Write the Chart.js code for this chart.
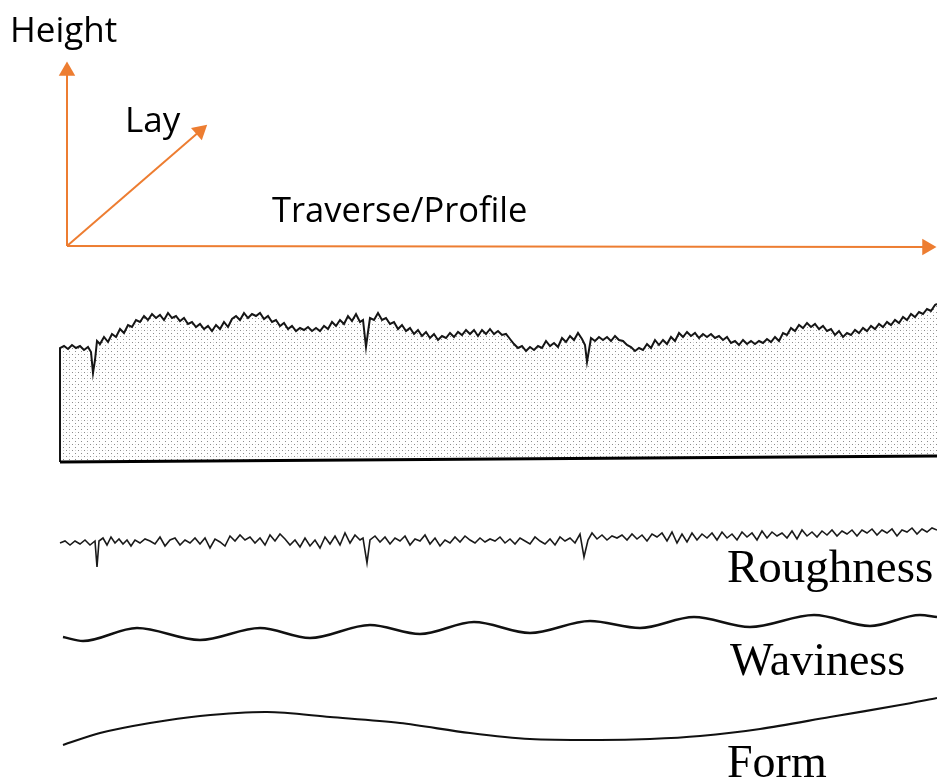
<!DOCTYPE html>
<html>
<head>
<meta charset="utf-8">
<script src="https://cdn.jsdelivr.net/npm/chart.js@4.4.1/dist/chart.umd.min.js"></script>
<style>
  body { margin: 0; background: #fff; }
  #wrap { width: 937px; height: 781px; }
</style>
</head>
<body>
<div id="wrap"><canvas id="chart" width="937" height="781"></canvas></div>
<script>
// axes of the sketch (traverse / lay / height), start and arrow point
const heightAxis = [[67, 246], [67, 71]];
const layAxis = [[67, 246], [200, 131]];
const traverseAxis = [[67, 246], [927, 247]];

// measured surface (top edge), starts at bottom left corner
const profile = [
  [60,462],[60,348],[64,346],[68,349],[72,345],[76,348],[80,346],[84,350],[88,347],[91,352],[93,373],[95,360],
  [97,341],[100,344],[104,337],[108,342],[112,334],[116,337],[120,329],[124,333],[128,325],[132,327],[136,320],
  [140,322],[144,316],[148,320],[152,314],[156,318],[160,315],[164,320],[168,313],[172,318],[176,316],[180,321],
  [184,318],[188,324],[192,322],[196,327],[200,324],[204,329],[208,326],[212,331],[216,325],[220,329],[224,322],
  [228,327],[232,319],[236,316],[240,320],[244,313],[248,318],[252,314],[256,316],[260,313],[264,319],[268,316],
  [272,322],[276,320],[280,326],[284,323],[288,329],[292,326],[296,331],[300,328],[304,330],[308,327],[312,331],
  [316,328],[320,331],[324,326],[328,329],[332,322],[336,326],[340,320],[344,324],[348,316],[352,321],[356,314],
  [360,322],[363,320],[366,347],[368,332],[370,318],[374,320],[378,313],[382,320],[386,318],[390,324],[394,322],
  [398,329],[402,325],[406,331],[410,328],[414,334],[418,330],[422,336],[426,332],[430,338],[434,334],[438,340],
  [442,336],[446,338],[450,333],[454,337],[458,332],[462,335],[466,330],[470,334],[474,330],[478,336],[482,330],
  [486,334],[490,329],[494,334],[498,331],[502,335],[506,334],[510,339],[514,344],[518,348],[522,346],[526,351],
  [530,347],[534,350],[538,346],[542,348],[546,341],[550,346],[554,343],[558,347],[562,338],[566,342],[570,336],
  [574,340],[578,333],[582,339],[585,345],[587,362],[589,350],[591,338],[595,341],[599,337],[603,340],[607,337],
  [611,341],[615,336],[619,340],[623,341],[627,345],[631,347],[635,351],[639,348],[643,350],[647,344],[651,348],
  [655,340],[659,345],[663,340],[667,344],[671,337],[675,341],[679,333],[683,337],[687,332],[691,336],[695,333],
  [699,338],[703,334],[707,337],[711,334],[715,338],[719,336],[723,340],[727,337],[731,343],[735,341],[739,345],
  [743,340],[747,344],[751,341],[755,344],[759,341],[763,343],[767,339],[771,342],[775,337],[779,341],[783,333],
  [787,335],[791,328],[795,331],[799,325],[803,328],[807,323],[811,327],[815,324],[819,329],[823,326],[827,331],
  [831,329],[835,335],[839,331],[843,337],[847,333],[851,335],[855,330],[859,333],[863,328],[867,331],[871,326],
  [875,329],[879,324],[883,327],[887,322],[891,325],[895,320],[899,323],[903,317],[907,320],[911,314],[915,317],
  [919,312],[923,314],[927,309],[931,311],[935,305],[937,304]
];
const profileBase = [[60,462],[937,456]];

// roughness component
const roughness = [
  [60,543],[65,541],[70,545],[75,541],[80,544],[85,540],[90,545],[95,541],[97,567],[99,541],[103,538],[107,545],
  [111,537],[115,543],[119,539],[123,544],[127,540],[131,546],[135,540],[140,543],[145,539],[150,541],[155,544],
  [160,537],[165,546],[170,540],[175,538],[180,545],[185,540],[190,543],[195,538],[200,544],[205,538],[210,548],
  [215,539],[220,542],[225,546],[230,536],[235,541],[240,535],[245,540],[250,537],[255,543],[260,538],[265,545],
  [270,535],[275,541],[280,534],[285,539],[290,545],[295,540],[300,547],[305,538],[310,546],[315,540],[320,548],
  [325,537],[330,544],[335,536],[340,545],[345,533],[350,543],[355,535],[360,540],[363,538],[367,563],[370,540],
  [375,536],[380,542],[385,537],[390,544],[395,538],[400,541],[405,536],[410,545],[415,539],[420,541],[425,535],
  [430,544],[435,538],[440,546],[445,540],[450,543],[455,537],[460,542],[465,536],[470,540],[475,543],[480,538],
  [485,542],[490,539],[495,541],[500,537],[505,543],[510,539],[515,544],[520,538],[525,541],[530,544],[535,537],
  [540,541],[545,544],[550,539],[555,545],[560,537],[565,541],[570,538],[575,543],[580,534],[584,557],[588,540],
  [592,533],[597,539],[602,535],[607,540],[612,536],[617,538],[622,535],[627,540],[632,534],[637,539],[642,535],
  [647,541],[652,534],[657,537],[662,533],[667,541],[672,532],[677,543],[682,534],[687,542],[692,533],[697,540],
  [702,534],[707,538],[712,533],[717,540],[722,532],[727,538],[732,534],[737,540],[742,532],[747,537],[752,533],
  [757,540],[762,531],[767,538],[772,532],[777,536],[782,533],[787,538],[792,531],[797,539],[802,530],[807,536],
  [812,532],[817,537],[822,531],[827,535],[832,530],[837,536],[842,531],[847,534],[852,530],[857,536],[862,530],
  [867,533],[872,529],[877,535],[882,530],[887,533],[892,529],[897,536],[902,530],[907,532],[912,528],[917,534],
  [922,529],[927,532],[932,528],[937,530]
];

// waviness component (crests and troughs)
const waviness = [
  [63,637],[83,641],[137,628],[200,640],[260,628],[310,638],[370,625],[420,634],[474,622],
  [530,633],[590,621],[640,628],[694,617],[750,627],[814,615],[870,626],[920,615],[937,617]
];

// form component
const form = [
  [63,745],[100,733],[150,723],[200,716],[267,712],[330,717],[400,723],[470,733],
  [530,739],[600,740],[650,739],[700,736],[760,729],[830,717],[900,705],[937,698]
];

const texts = [
  { text: 'Height', x: 10, y: 42, font: '35px "Open Sans"' },
  { text: 'Lay', x: 125, y: 132, font: '35px "Open Sans"' },
  { text: 'Traverse/Profile', x: 272, y: 222, font: '34.5px "Open Sans"' },
  { text: 'Roughness', x: 727, y: 582, font: '47px "Liberation Serif"' },
  { text: 'Waviness', x: 730, y: 675, font: '46px "Liberation Serif"' },
  { text: 'Form', x: 727, y: 777, font: '46px "Liberation Serif"' }
];

const orange = '#ed7d31';

function toPts(arr) {
  return arr.map(p => ({ x: p[0], y: p[1] }));
}

// dotted grey fill like the printed stipple
function stipple() {
  const c = document.createElement('canvas');
  c.width = 6; c.height = 6;
  const g = c.getContext('2d');
  g.fillStyle = '#fff';
  g.fillRect(0, 0, 6, 6);
  g.fillStyle = '#8c8c8c';
  g.fillRect(0, 0, 1, 1);
  g.fillRect(3, 3, 1, 1);
  g.fillStyle = '#d4d4d4';
  g.fillRect(3, 0, 1, 1);
  return document.getElementById('chart').getContext('2d').createPattern(c, 'repeat');
}

function arrow(data, rot) {
  return {
    data: toPts(data),
    borderColor: orange,
    borderWidth: 2,
    pointRadius: [0, 9.5],
    pointStyle: 'triangle',
    pointRotation: [0, rot],
    pointBackgroundColor: orange,
    pointBorderColor: orange,
    pointBorderWidth: 0,
    fill: false,
    clip: false
  };
}

const textPlugin = {
  id: 'sketchText',
  afterDatasetsDraw(chart) {
    const ctx = chart.ctx;
    ctx.save();
    ctx.fillStyle = '#000';
    ctx.textBaseline = 'alphabetic';
    ctx.textAlign = 'left';
    texts.forEach(t => {
      ctx.font = t.font;
      ctx.fillText(t.text, t.x, t.y);
    });
    ctx.restore();
  }
};

new Chart(document.getElementById('chart'), {
  type: 'line',
  data: {
    datasets: [
      {
        data: toPts(profileBase),
        borderColor: '#000',
        borderWidth: 3,
        pointRadius: 0,
        fill: false,
        clip: false
      },
      {
        data: toPts(profile),
        borderColor: '#151515',
        borderWidth: 2,
        pointRadius: 0,
        backgroundColor: stipple(),
        fill: 0,
        clip: false
      },
      {
        data: toPts(roughness),
        borderColor: '#1a1a1a',
        borderWidth: 1.6,
        pointRadius: 0,
        fill: false,
        clip: false
      },
      {
        data: toPts(waviness),
        borderColor: '#111',
        borderWidth: 2.5,
        pointRadius: 0,
        cubicInterpolationMode: 'monotone',
        fill: false,
        clip: false
      },
      {
        data: toPts(form),
        borderColor: '#111',
        borderWidth: 2.2,
        pointRadius: 0,
        tension: 0.3,
        fill: false,
        clip: false
      },
      arrow(heightAxis, 0),
      arrow(layAxis, 49),
      arrow(traverseAxis, 90)
    ]
  },
  options: {
    responsive: false,
    animation: false,
    layout: { padding: 0, autoPadding: false },
    plugins: { legend: { display: false }, tooltip: { enabled: false } },
    scales: {
      x: { type: 'linear', min: 0, max: 937, display: false },
      y: { type: 'linear', min: 0, max: 781, reverse: true, display: false }
    }
  },
  plugins: [textPlugin]
});
</script>
</body>
</html>
